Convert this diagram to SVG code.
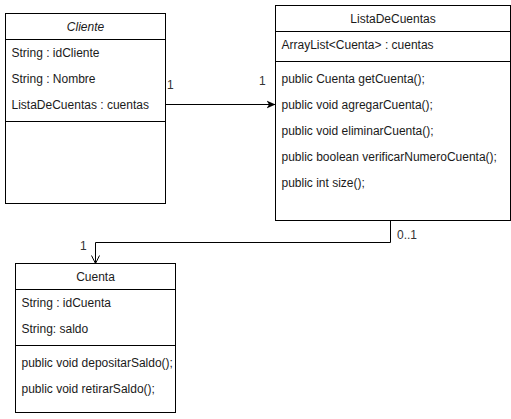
<svg xmlns="http://www.w3.org/2000/svg" width="511" height="419" viewBox="0 0 511 419">
<style>
.box{fill:#fff;stroke:#000;stroke-width:1}
.ln{stroke:#000;stroke-width:1;fill:none}
text{font-family:"Liberation Sans",Arial,sans-serif;font-size:12px;fill:#1a1a1a}
.t{text-anchor:middle}
.lbl{fill:#333}
</style>
<defs>
<marker id="block" viewBox="0 0 10 10" refX="9" refY="5" markerWidth="10" markerHeight="10" markerUnits="userSpaceOnUse" orient="auto">
<path d="M0,1 L9,5 L0,9 L2.5,5 Z" fill="#000"/>
</marker>
<marker id="open" viewBox="0 0 10 10" refX="9" refY="5" markerWidth="10" markerHeight="10" markerUnits="userSpaceOnUse" orient="auto">
<path d="M1,1 L9,5 L1,9" fill="none" stroke="#000" stroke-width="1"/>
</marker>
</defs>
<rect width="511" height="419" fill="#fff"/>
<g id="Cliente">
<rect class="box" x="5.5" y="13.5" width="160" height="190"/>
<line class="ln" x1="5.5" y1="39.5" x2="165.5" y2="39.5"/>
<line class="ln" x1="5.5" y1="121.5" x2="165.5" y2="121.5"/>
<text class="t" x="85.5" y="30.5" font-style="italic">Cliente</text>
<text x="11.5" y="56.5">String : idCliente</text>
<text x="11.5" y="82.5">String : Nombre</text>
<text x="11.5" y="108.5">ListaDeCuentas : cuentas</text>
</g>
<g id="ListaDeCuentas">
<rect class="box" x="275.5" y="5.5" width="235" height="215"/>
<line class="ln" x1="275.5" y1="31.5" x2="510.5" y2="31.5"/>
<line class="ln" x1="275.5" y1="61.5" x2="510.5" y2="61.5"/>
<text class="t" x="393" y="22.5">ListaDeCuentas</text>
<text x="281.5" y="48.5">ArrayList&lt;Cuenta&gt; : cuentas</text>
<text x="281.5" y="82.5">public Cuenta getCuenta();</text>
<text x="281.5" y="108.5">public void agregarCuenta();</text>
<text x="281.5" y="134.5">public void eliminarCuenta();</text>
<text x="281.5" y="160.5">public boolean verificarNumeroCuenta();</text>
<text x="281.5" y="186.5">public int size();</text>
</g>
<g id="Cuenta">
<rect class="box" x="15.5" y="263.5" width="160" height="149"/>
<line class="ln" x1="15.5" y1="289.5" x2="175.5" y2="289.5"/>
<line class="ln" x1="15.5" y1="345.5" x2="175.5" y2="345.5"/>
<text class="t" x="95.5" y="280.5">Cuenta</text>
<text x="21.5" y="306.5">String : idCuenta</text>
<text x="21.5" y="332.5">String: saldo</text>
<text x="21.5" y="366.5">public void depositarSaldo();</text>
<text x="21.5" y="392.5">public void retirarSaldo();</text>
</g>
<g id="connectors">
<line class="ln" x1="165.5" y1="104.5" x2="275.5" y2="104.5" marker-end="url(#block)"/>
<text class="lbl" x="167" y="89">1</text>
<text class="lbl" x="259" y="85">1</text>
<polyline class="ln" points="390.5,220.5 390.5,242.5 95.5,242.5 95.5,263.5" marker-end="url(#open)"/>
<text class="lbl" x="397" y="239">0..1</text>
<text class="lbl" x="80" y="250">1</text>
</g>
</svg>
